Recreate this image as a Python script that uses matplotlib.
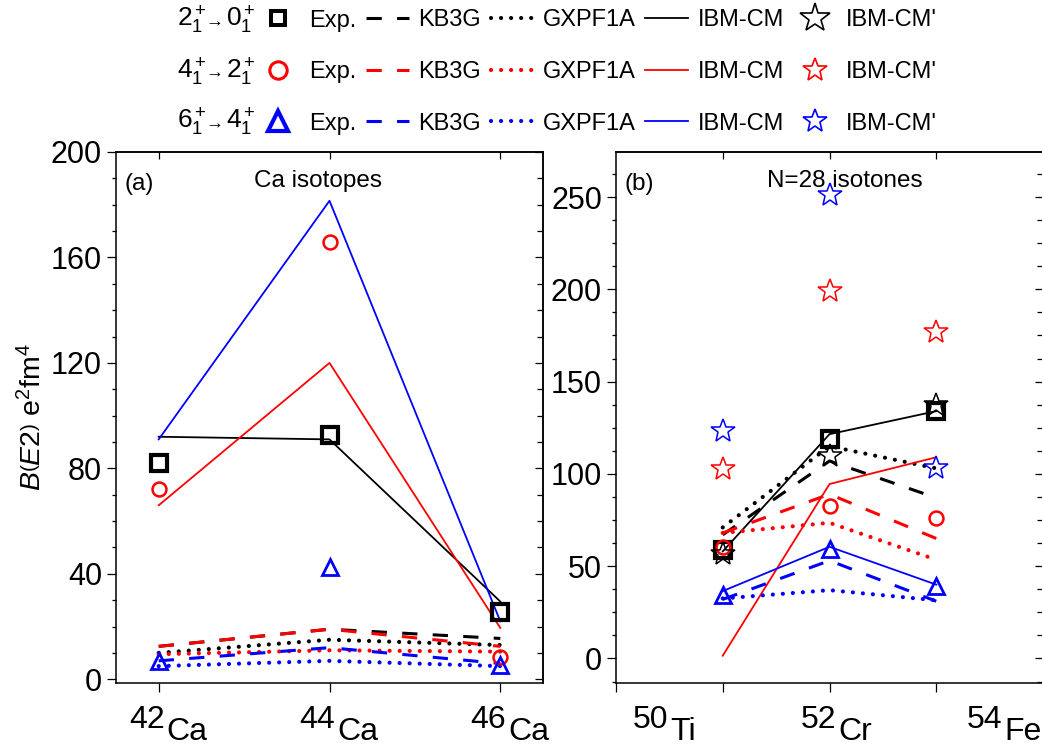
import matplotlib
matplotlib.use('Agg')
import matplotlib.pyplot as plt
import numpy as np
from matplotlib.lines import Line2D
from matplotlib.ticker import MultipleLocator

plt.rcParams['font.family'] = ['Liberation Sans', 'DejaVu Sans']
plt.rcParams['mathtext.fontset'] = 'custom'
plt.rcParams['mathtext.rm'] = 'Liberation Sans'
plt.rcParams['mathtext.it'] = 'Liberation Sans:italic'
plt.rcParams['mathtext.bf'] = 'Liberation Sans:bold'

# ---- data: (a) Ca isotopes ----
ca_mass = [42, 44, 46]
ca_mass_lbl = ['42', '44', '46']
ca_elem = ['Ca', 'Ca', 'Ca']
ca_exp_20 = [82, 92.5, 25.5]
ca_exp_42 = [72, 166, 8.5]
ca_exp_64 = [7, 42.5, 5.5]
ca_kb3g_20 = [12.5, 19, 15.5]
ca_kb3g_42 = [12.5, 19, 12.5]
ca_kb3g_64 = [7, 12, 6]
ca_gx_20 = [10, 15, 13]
ca_gx_42 = [9.5, 11, 10.5]
ca_gx_64 = [5, 7, 5]
ca_ibm_20 = [92, 91, 29.5]
ca_ibm_42 = [66, 120, 19.5]
ca_ibm_64 = [91, 181.5, 22]

# ---- data: (b) N=28 isotones ----
n28_x = [1, 2, 3]
n28_mass_lbl = ['50', '52', '54']
n28_elem = ['Ti', 'Cr', 'Fe']
n28_exp_20 = [59, 119, 134]
n28_exp_42 = [60.5, 82.5, 76]
n28_exp_64 = [34.5, 59.5, 39.5]
n28_kb3g_20 = [67, 107, 87]
n28_kb3g_42 = [68, 89, 65]
n28_kb3g_64 = [32, 53, 31]
n28_gx_20 = [71, 115, 103]
n28_gx_42 = [68, 73.5, 53.5]
n28_gx_64 = [32.5, 37, 31.5]
n28_ibm_20 = [58, 121.5, 134]
n28_ibm_42 = [1.5, 94.5, 109]
n28_ibm_64 = [36.5, 60.5, 40]
n28_ibmp_20 = [56.5, 109.5, 137.5]
n28_ibmp_42 = [102.5, 199, 177]
n28_ibmp_64 = [123.5, 251, 103]

colors = ['black', 'red', 'blue']
dash = (0, (5, 5))
dot = (0, (0.01, 2.4))

fig = plt.figure(figsize=(10.42, 7.46), dpi=100)
W, H = 1042., 746.
ax1 = fig.add_axes([116/W, 63/H, 427/W, 531/H])
ax2 = fig.add_axes([616/W, 63/H, 427/W, 531/H])


def draw(ax, x, exp, kb, gx, ibm):
    mk = [dict(marker='s', ms=12, mew=3.0), dict(marker='o', ms=10, mew=1.8),
          dict(marker='^', ms=12, mew=2.0)]
    for i, c in enumerate(colors):
        ax.plot(x, kb[i], color=c, ls=dash, lw=2.2, zorder=2)
        ax.plot(x, gx[i], color=c, ls=dot, lw=3.0, dash_capstyle='round', zorder=2)
        ax.plot(x, ibm[i], color=c, ls='-', lw=1.3, zorder=2)
    for i, c in enumerate(colors):
        ax.plot(x, exp[i], ls='none', mec=c, mfc='none', zorder=4, **mk[i])


draw(ax1, ca_mass, [ca_exp_20, ca_exp_42, ca_exp_64],
     [ca_kb3g_20, ca_kb3g_42, ca_kb3g_64], [ca_gx_20, ca_gx_42, ca_gx_64],
     [ca_ibm_20, ca_ibm_42, ca_ibm_64])
draw(ax2, n28_x, [n28_exp_20, n28_exp_42, n28_exp_64],
     [n28_kb3g_20, n28_kb3g_42, n28_kb3g_64], [n28_gx_20, n28_gx_42, n28_gx_64],
     [n28_ibm_20, n28_ibm_42, n28_ibm_64])
for vals, c in zip([n28_ibmp_20, n28_ibmp_42, n28_ibmp_64], colors):
    ax2.plot(n28_x, vals, ls='none', marker='*', ms=18, mew=1.1, mec=c, mfc='none', zorder=5)

# axes limits / ticks
ax1.set_xlim(41.5, 46.5)
ax1.set_ylim(-1.4, 200)
ax1.set_yticks(np.arange(0, 201, 40))
ax1.yaxis.set_minor_locator(MultipleLocator(10))
ax1.set_xticks(ca_mass, labels=['']*3)

ax2.set_xlim(0, 4)
ax2.set_ylim(-13.3, 274.4)
ax2.set_yticks(np.arange(0, 251, 50))
ax2.yaxis.set_minor_locator(MultipleLocator(12.5))
ax2.set_xticks([0, 1, 2, 3, 4], labels=['']*5)

for ax, xt in [(ax1, ca_mass), (ax2, n28_x)]:
    for s in ax.spines.values():
        s.set_linewidth(1.1)
    ax.tick_params(axis='y', which='major', direction='out', length=6.5, width=0.9,
                   labelsize=22, pad=3.5)
    ax.tick_params(axis='y', which='minor', direction='out', length=3.2, width=0.9)
    ax.tick_params(axis='x', which='major', direction='out', length=6.5, width=0.9)
    sy = ax.secondary_yaxis('right')
    sy.set_yticks(ax.get_yticks())
    sy.yaxis.set_minor_locator(ax.yaxis.get_minor_locator())
    sy.tick_params(which='major', direction='in', length=6, width=0.9, labelright=False)
    sy.tick_params(which='minor', direction='in', length=4, width=0.9)
    sy.spines['right'].set_linewidth(1.1)
    sx = ax.secondary_xaxis('top')
    sx.set_xticks(xt)
    sx.tick_params(direction='in', length=5, width=0.9, labeltop=False)
    sx.spines['top'].set_linewidth(1.1)


def iso_labels(ax, xs, masses, elems, dx):
    for xa, m, el in zip(xs, masses, elems):
        ax.annotate(m, xy=(xa, 0), xycoords=('data', 'axes fraction'), xytext=(dx, -45),
                    textcoords='offset pixels', ha='right', va='baseline', fontsize=23,
                    annotation_clip=False)
        ax.annotate(el, xy=(xa, 0), xycoords=('data', 'axes fraction'), xytext=(dx + 2, -57),
                    textcoords='offset pixels', ha='left', va='baseline', fontsize=23,
                    annotation_clip=False)


iso_labels(ax1, ca_mass, ca_mass_lbl, ca_elem, 6)
iso_labels(ax2, [0.49, 2.06, 3.62], n28_mass_lbl, n28_elem, 0)

ax1.set_ylabel(r'$B\left(E2\right)$ e$^2$fm$^4$', fontsize=20.5)
ax1.yaxis.set_label_coords(-0.162, 0.5)

ax1.text(0.021, 0.928, '(a)', transform=ax1.transAxes, fontsize=17.5, va='baseline')
ax1.text(0.473, 0.934, 'Ca isotopes', transform=ax1.transAxes, fontsize=17.5,
         ha='center', va='baseline')
ax2.text(0.021, 0.928, '(b)', transform=ax2.transAxes, fontsize=17.5, va='baseline')
ax2.text(0.535, 0.934, 'N=28 isotones', transform=ax2.transAxes, fontsize=17.5,
         ha='center', va='baseline')

# ---- legend ----
leg_mk = [dict(marker='s', ms=9.5, mew=2.9), dict(marker='o', ms=12.5, mew=2.2),
          dict(marker='^', ms=15, mew=3.0)]
star_ms = [22, 18, 18]
cols = [[], [], [], [], []]
for i, c in enumerate(colors):
    cols[0].append(Line2D([], [], ls='none', mec=c, mfc='none', **leg_mk[i]))
    cols[1].append(Line2D([], [], color=c, ls=dash, lw=2.2))
    cols[2].append(Line2D([], [], color=c, ls=dot, lw=3.0, dash_capstyle='round'))
    cols[3].append(Line2D([], [], color=c, ls='-', lw=1.3))
    cols[4].append(Line2D([], [], ls='none', marker='*', ms=star_ms[i], mew=1.2,
                          mec=c, mfc='none'))
names = ['Exp.', 'KB3G', 'GXPF1A', 'IBM-CM', "IBM-CM'"]
handles, labels = [], []
for j in range(5):
    for i in range(3):
        handles.append(cols[j][i])
        labels.append(names[j])
fig.legend(handles, labels, ncol=5, loc='upper left', bbox_to_anchor=(257/W, 1 - 9.5/H),
           frameon=False, fontsize=17, handlelength=1.8, handletextpad=0.42,
           columnspacing=0.4, labelspacing=1.25, borderpad=0, borderaxespad=0)

row_titles = [('2', '0'), ('4', '2'), ('6', '4')]
for k, (a, b) in enumerate(row_titles):
    yb = 1 - (27 + 51*k)/H
    fig.text(177/W, yb, rf'${a}^+_1$', fontsize=19, va='baseline', ha='left')
    fig.text(205/W, yb + 1/H, '\u2192', fontsize=13, va='baseline', ha='left')
    fig.text(226/W, yb, rf'${b}^+_1$', fontsize=19, va='baseline', ha='left')

fig.savefig('out.png', dpi=100)
